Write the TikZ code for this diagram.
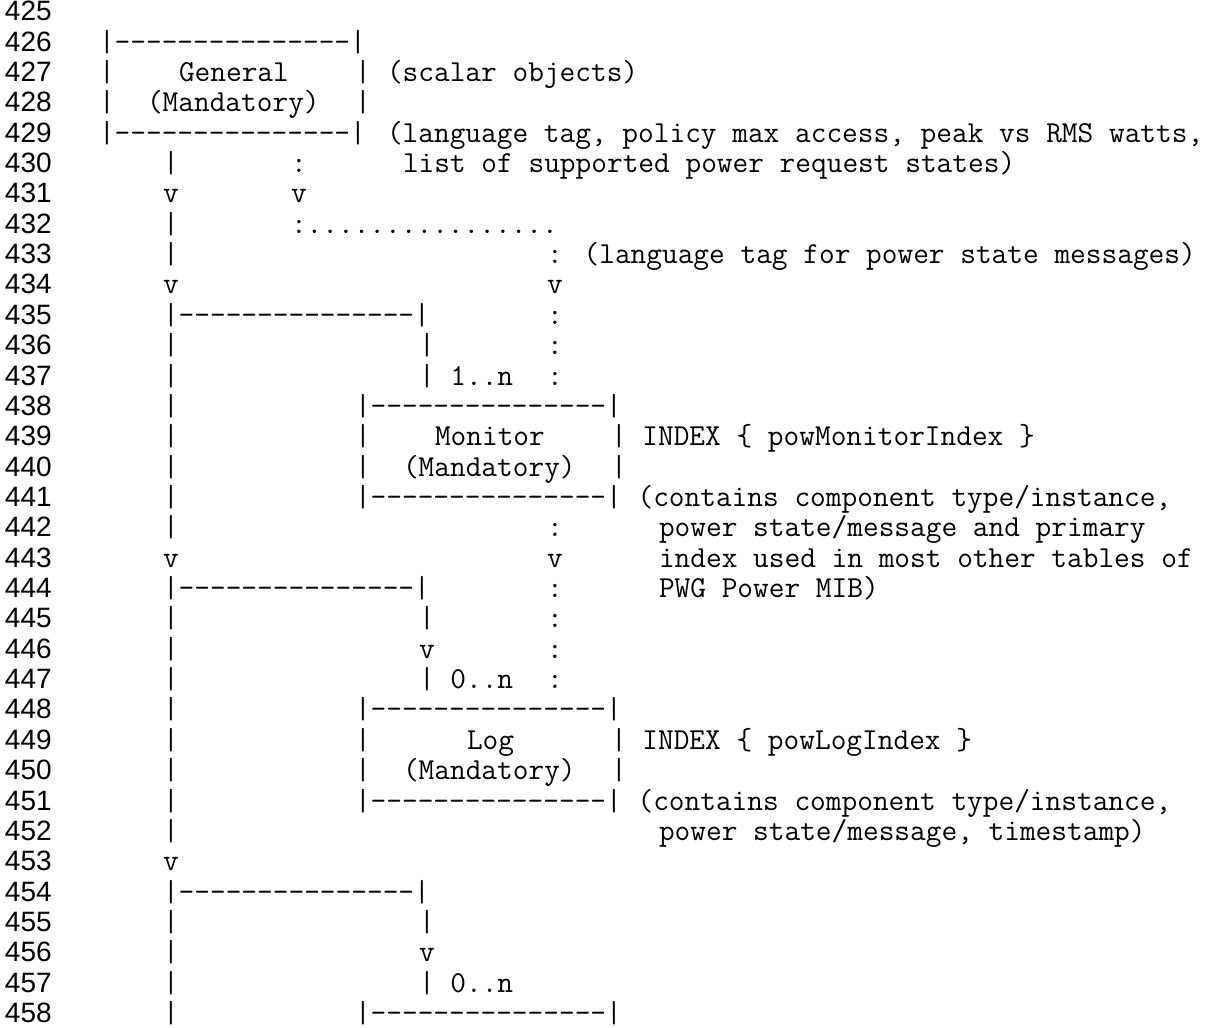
\documentclass[tikz,border=0pt]{standalone}
\usepackage{fontspec}
\newfontfamily\numfont{Liberation Sans}
\begin{document}
\begin{tikzpicture}[x=8pt,y=-15.18pt,
  asc/.style={anchor=base west,inner sep=0pt,outer sep=0pt,font=\fontsize{15.24}{16}\ttfamily},
  num/.style={anchor=base west,inner sep=0pt,outer sep=0pt,font=\fontsize{14}{15}\numfont}]
\useasboundingbox (-6.1875,-0.682) rectangle (70,33.178);
\fill[white] (-6.1875,-0.682) rectangle (70,33.178);
\node [num](n425) at(-5.875,0) {425};
\node [num](n426) at(-5.875,1) {426};
\node [num](n427) at(-5.875,2) {427};
\node [num](n428) at(-5.875,3) {428};
\node [num](n429) at(-5.875,4) {429};
\node [num](n430) at(-5.875,5) {430};
\node [num](n431) at(-5.875,6) {431};
\node [num](n432) at(-5.875,7) {432};
\node [num](n433) at(-5.875,8) {433};
\node [num](n434) at(-5.875,9) {434};
\node [num](n435) at(-5.875,10) {435};
\node [num](n436) at(-5.875,11) {436};
\node [num](n437) at(-5.875,12) {437};
\node [num](n438) at(-5.875,13) {438};
\node [num](n439) at(-5.875,14) {439};
\node [num](n440) at(-5.875,15) {440};
\node [num](n441) at(-5.875,16) {441};
\node [num](n442) at(-5.875,17) {442};
\node [num](n443) at(-5.875,18) {443};
\node [num](n444) at(-5.875,19) {444};
\node [num](n445) at(-5.875,20) {445};
\node [num](n446) at(-5.875,21) {446};
\node [num](n447) at(-5.875,22) {447};
\node [num](n448) at(-5.875,23) {448};
\node [num](n449) at(-5.875,24) {449};
\node [num](n450) at(-5.875,25) {450};
\node [num](n451) at(-5.875,26) {451};
\node [num](n452) at(-5.875,27) {452};
\node [num](n453) at(-5.875,28) {453};
\node [num](n454) at(-5.875,29) {454};
\node [num](n455) at(-5.875,30) {455};
\node [num](n456) at(-5.875,31) {456};
\node [num](n457) at(-5.875,32) {457};
\node [num](n458) at(-5.875,33) {458};
\node [asc](gtop) at(0,1) {|---------------|};
\node [asc](gl427) at(0,2) {|};
\node [asc](gname) at(5,2) {General};
\node [asc](gr427) at(16,2) {|};
\node [asc](gnote) at(18,2) {(scalar objects)};
\node [asc](gl428) at(0,3) {|};
\node [asc](gmand) at(3,3) {(Mandatory)};
\node [asc](gr428) at(16,3) {|};
\node [asc](gbot) at(0,4) {|---------------|};
\node [asc](gnote2) at(18,4) {(language tag, policy max access, peak vs RMS watts,};
\node [asc](p430) at(4,5) {|};
\node [asc](d430) at(12,5) {:};
\node [asc](gnote3) at(19,5) {list of supported power request states)};
\node [asc](p431) at(4,6) {v};
\node [asc](d431) at(12,6) {v};
\node [asc](p432) at(4,7) {|};
\node [asc](d432) at(12,7) {:................};
\node [asc](p433) at(4,8) {|};
\node [asc](d433) at(28,8) {: (language tag for power state messages)};
\node [asc](p434) at(4,9) {v};
\node [asc](d434) at(28,9) {v};
\node [asc](mtop) at(4,10) {|---------------|};
\node [asc](d435) at(28,10) {:};
\node [asc](p436) at(4,11) {|};
\node [asc](q436) at(20,11) {|};
\node [asc](d436) at(28,11) {:};
\node [asc](p437) at(4,12) {|};
\node [asc](q437) at(20,12) {| 1..n};
\node [asc](d437) at(28,12) {:};
\node [asc](p438) at(4,13) {|};
\node [asc](mboxtop) at(16,13) {|---------------|};
\node [asc](p439) at(4,14) {|};
\node [asc](ml439) at(16,14) {|};
\node [asc](mname) at(21,14) {Monitor};
\node [asc](mr439) at(32,14) {| INDEX \{ powMonitorIndex \}};
\node [asc](p440) at(4,15) {|};
\node [asc](ml440) at(16,15) {|};
\node [asc](mmand) at(19,15) {(Mandatory)};
\node [asc](mr440) at(32,15) {|};
\node [asc](p441) at(4,16) {|};
\node [asc](mboxbot) at(16,16) {|---------------| (contains component type/instance,};
\node [asc](p442) at(4,17) {|};
\node [asc](d442) at(28,17) {:};
\node [asc](mnote2) at(35,17) {power state/message and primary};
\node [asc](p443) at(4,18) {v};
\node [asc](d443) at(28,18) {v};
\node [asc](mnote3) at(35,18) {index used in most other tables of};
\node [asc](ltop) at(4,19) {|---------------|};
\node [asc](d444) at(28,19) {:};
\node [asc](mnote4) at(35,19) {PWG Power MIB)};
\node [asc](p445) at(4,20) {|};
\node [asc](q445) at(20,20) {|};
\node [asc](d445) at(28,20) {:};
\node [asc](p446) at(4,21) {|};
\node [asc](q446) at(20,21) {v};
\node [asc](d446) at(28,21) {:};
\node [asc](p447) at(4,22) {|};
\node [asc](q447) at(20,22) {| 0..n};
\node [asc](d447) at(28,22) {:};
\node [asc](p448) at(4,23) {|};
\node [asc](lboxtop) at(16,23) {|---------------|};
\node [asc](p449) at(4,24) {|};
\node [asc](ll449) at(16,24) {|};
\node [asc](lname) at(23,24) {Log};
\node [asc](lr449) at(32,24) {| INDEX \{ powLogIndex \}};
\node [asc](p450) at(4,25) {|};
\node [asc](ll450) at(16,25) {|};
\node [asc](lmand) at(19,25) {(Mandatory)};
\node [asc](lr450) at(32,25) {|};
\node [asc](p451) at(4,26) {|};
\node [asc](lboxbot) at(16,26) {|---------------| (contains component type/instance,};
\node [asc](p452) at(4,27) {|};
\node [asc](lnote2) at(35,27) {power state/message, timestamp)};
\node [asc](p453) at(4,28) {v};
\node [asc](xtop) at(4,29) {|---------------|};
\node [asc](p455) at(4,30) {|};
\node [asc](q455) at(20,30) {|};
\node [asc](p456) at(4,31) {|};
\node [asc](q456) at(20,31) {v};
\node [asc](p457) at(4,32) {|};
\node [asc](q457) at(20,32) {| 0..n};
\node [asc](p458) at(4,33) {|};
\node [asc](xboxtop) at(16,33) {|---------------|};
\end{tikzpicture}
\end{document}
